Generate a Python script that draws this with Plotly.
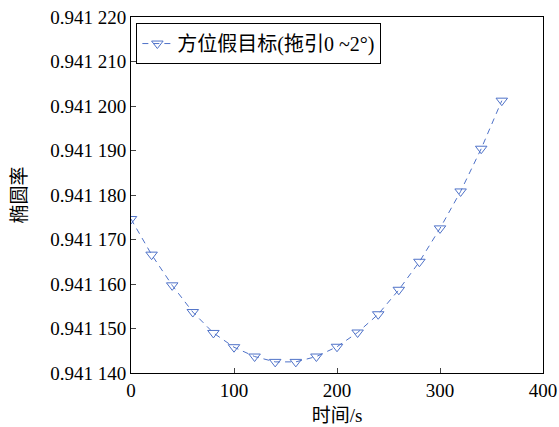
import plotly.graph_objects as go

time_s = [0, 20, 40, 60, 80, 100, 120, 140, 160, 180, 200, 220, 240, 260, 280, 300, 320, 340, 360]
ellipticity = [0.9411746, 0.9411666, 0.9411597, 0.9411537, 0.9411490, 0.9411458, 0.9411437, 0.9411425,
               0.9411425, 0.9411437, 0.9411459, 0.9411491, 0.9411532, 0.9411587, 0.9411650, 0.9411725,
               0.9411808, 0.9411904, 0.9412012]
series_name = "方位假目标(拖引0 ~2°)"
y_ticks = [0.94114, 0.94115, 0.94116, 0.94117, 0.94118, 0.94119, 0.94120, 0.94121, 0.94122]
y_tick_labels = ["0.941 140", "0.941 150", "0.941 160", "0.941 170", "0.941 180",
                 "0.941 190", "0.941 200", "0.941 210", "0.941 220"]
x_ticks = [0, 100, 200, 300, 400]

color = "#4f72c8"
font_fam = "'Liberation Serif', 'Times New Roman', 'Noto Sans CJK SC', serif"

fig = go.Figure()
fig.add_trace(go.Scatter(
    x=time_s, y=ellipticity, mode="lines+markers", name=series_name,
    line=dict(color=color, width=1, dash="6px,5px"),
    marker=dict(symbol="triangle-down-open", size=10, color=color, line=dict(width=1, color=color)),
))

fig.update_layout(
    width=559, height=427,
    margin=dict(l=131, r=16, t=17, b=54, autoexpand=False),
    paper_bgcolor="white", plot_bgcolor="white",
    font=dict(family=font_fam, size=18, color="black"),
    showlegend=True,
    legend=dict(x=0.013, y=0.983, xanchor="left", yanchor="top",
                bordercolor="black", borderwidth=1, bgcolor="white",
                font=dict(family=font_fam, size=20)),
    xaxis=dict(range=[0, 400], tickvals=x_ticks, ticks="inside", ticklen=5,
               showline=True, linecolor="black", linewidth=1, mirror=True,
               showgrid=False, zeroline=False, automargin=False,
               ticklabeloverflow="allow",
               title=dict(text="时间/s", font=dict(size=19), standoff=8),
               tickfont=dict(size=19)),
    yaxis=dict(range=[0.94114, 0.94122], tickvals=y_ticks, ticktext=y_tick_labels,
               ticks="inside", ticklen=5,
               showline=True, linecolor="black", linewidth=1, mirror=True,
               showgrid=False, zeroline=False, automargin=False,
               ticklabeloverflow="allow",
               title=dict(text="椭圆率", font=dict(size=19), standoff=18),
               tickfont=dict(size=19)),
)

fig.write_html("out.html", config={"displayModeBar": False},
               post_script="document.body.style.margin='0';document.body.style.overflow='hidden';")
